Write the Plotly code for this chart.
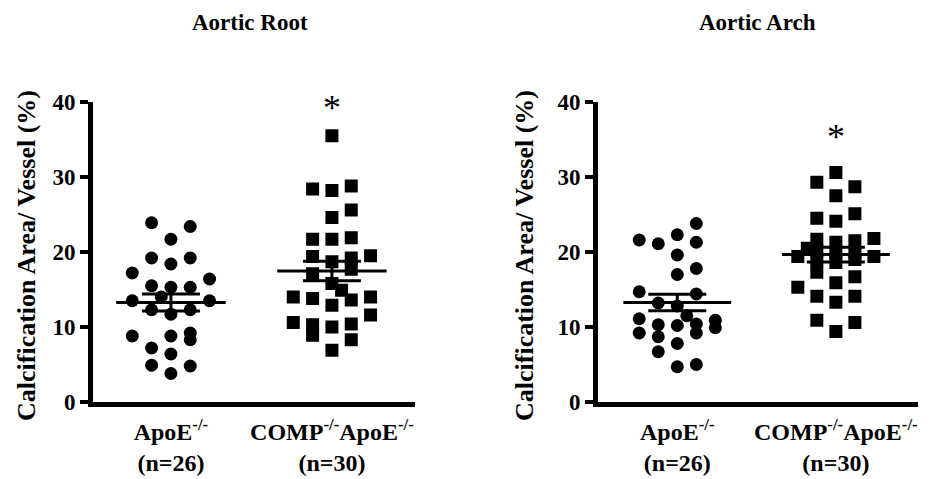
import numpy as np
import plotly.graph_objects as go

# ---------------- data ----------------
groups = ["ApoE<sup>-/-</sup><br>(n=26)", "COMP<sup>-/-</sup>ApoE<sup>-/-</sup><br>(n=30)"]
panel_titles = ["Aortic Root", "Aortic Arch"]
y_title = "Calcification Area/ Vessel (%)"
y_ticks = [0, 10, 20, 30, 40]

root_apoe = [23.9, 23.4, 21.7, 19.2, 18.4, 19.2, 17.2, 16.4, 15.5, 15.3, 15.3, 13.5, 14.0,
             13.5, 12.3, 11.7, 12.3, 8.8, 8.8, 9.2, 8.3, 7.2, 6.4, 4.9, 4.8, 3.8]
root_apoe_col = [-1, 1, 0, -1, 0, 1, -2, 2, -1, 0, 1, -2, -0.5,
                 2, -1, 0, 1, -2, 0, 1, 1, -1, 0, -1, 1, 0]

root_comp = [35.5, 28.4, 28.2, 28.8, 25.6, 24.6, 21.7, 21.7, 21.9, 19.5, 19.4, 18.7, 19.2, 17.7,
             17.1, 15.8, 14.9, 14.0, 13.8, 13.6, 14.0, 12.9, 11.6, 10.6, 10.3, 8.9, 10.0, 10.4, 8.3, 6.9]
root_comp_col = [0, -1, 0, 1, 1, 0, -1, 0, 1, 2, -1, 0, 1, 1,
                 -1, 0, 0.5, -2, -1, 1, 2, 0, 2, -2, -1, -1, 0, 1, 1, 0]

arch_apoe = [21.6, 21.1, 22.3, 23.8, 21.3, 19.6, 17.0, 17.8, 14.7, 14.4, 13.2, 12.8, 11.5,
             11.1, 10.3, 10.2, 10.4, 10.9, 9.9, 9.2, 8.7, 9.2, 7.8, 6.7, 4.7, 5.0]
arch_apoe_col = [-2, -1, 0, 1, 1, 0, 0, 1, -2, 1, -1, 0, 0.5,
                 -2, -1, 0, 1, 2, 2, -2, -1, 1, 0, -1, 0, 1]

arch_comp = [30.6, 29.3, 28.7, 27.5, 24.5, 24.1, 25.1, 21.7, 21.3, 21.5, 21.8, 20.5, 19.4, 20.2, 18.9,
             20.0, 18.6, 19.9, 19.0, 19.4, 17.3, 15.9, 16.7, 15.3, 14.1, 13.3, 14.1, 10.9, 9.4, 10.6]
arch_comp_col = [0, -1, 1, 0, -1, 0, 1, -1, 0, 1, 2, -1.5, -2, -1, -1,
                 0, 0, 1, 1, 2, -1, 0, 1, -2, -1, 0, 1, -1, 0, 1]

# ---------------- style ----------------
FONT = "Liberation Serif"
COL_STEP = 0.12
MEAN_HALF = 0.34
W, H = 947, 479

fig = go.Figure()

panels = [
    (("x", "y"), [(root_apoe, root_apoe_col, "circle"), (root_comp, root_comp_col, "square")]),
    (("x2", "y2"), [(arch_apoe, arch_apoe_col, "circle"), (arch_comp, arch_comp_col, "square")]),
]

for (xa, ya), series in panels:
    for gi, (vals, cols, sym) in enumerate(series):
        xc = gi + 1
        v = np.array(vals)
        xs = xc + COL_STEP * np.array(cols)
        fig.add_trace(go.Scatter(x=xs, y=v, mode="markers", xaxis=xa, yaxis=ya,
                                 marker=dict(symbol=sym, size=13, color="black", line=dict(width=0)),
                                 showlegend=False, hoverinfo="y"))
        mean = v.mean()
        sem = v.std(ddof=1) / np.sqrt(len(v))
        fig.add_trace(go.Scatter(x=[xc - MEAN_HALF, xc + MEAN_HALF], y=[mean, mean], mode="lines",
                                 xaxis=xa, yaxis=ya, line=dict(color="black", width=3),
                                 showlegend=False, hoverinfo="skip"))
        fig.add_trace(go.Scatter(x=[xc], y=[mean], mode="markers", xaxis=xa, yaxis=ya,
                                 marker=dict(size=1, color="rgba(0,0,0,0)"),
                                 error_y=dict(type="data", array=[sem], visible=True,
                                              color="black", thickness=3, width=29),
                                 showlegend=False, hoverinfo="skip"))

ydom = [77 / H, 377 / H]
axis_common_y = dict(range=[0, 40], tickvals=y_ticks, ticks="outside", ticklen=8, tickwidth=4,
                     tickcolor="black", showline=True, linewidth=5, linecolor="black",
                     showgrid=False, zeroline=False, automargin=False,
                     tickfont=dict(family=FONT, size=23, color="black", weight="bold"),
                     domain=ydom)
axis_common_x = dict(tickvals=[1, 2], ticktext=groups, ticks="", showline=True, linewidth=5,
                     linecolor="black", showgrid=False, zeroline=False, ticklabelstandoff=4,
                     automargin=False,
                     tickfont=dict(family=FONT, size=24, color="black", weight="bold"))

fig.update_layout(
    width=W, height=H, margin=dict(l=0, r=0, t=0, b=0),
    paper_bgcolor="white", plot_bgcolor="white",
    xaxis=dict(domain=[93 / W, 415 / W], range=[0.516, 2.516], anchor="y", **axis_common_x),
    yaxis=dict(anchor="x", **axis_common_y),
    xaxis2=dict(domain=[598 / W, 918 / W], range=[0.50, 2.518], anchor="y2", **axis_common_x),
    yaxis2=dict(anchor="x2", **axis_common_y),
)

ann = []
for cx, title in zip([250, 757], panel_titles):
    ann.append(dict(x=cx / W, y=1 - 23 / H, xref="paper", yref="paper", text=title, showarrow=False,
                    xanchor="center", yanchor="middle",
                    font=dict(family=FONT, size=23, color="black", weight="bold")))
for cx in [27, 525]:
    ann.append(dict(x=cx / W, y=1 - 256 / H, xref="paper", yref="paper", text=y_title, showarrow=False,
                    textangle=-90, xanchor="center", yanchor="middle",
                    font=dict(family=FONT, size=26, color="black", weight="bold")))
ann.append(dict(x=2, y=39.2, xref="x", yref="y", text="*", showarrow=False, yanchor="middle",
                font=dict(family=FONT, size=36, color="black")))
ann.append(dict(x=2, y=35.4, xref="x2", yref="y2", text="*", showarrow=False, yanchor="middle",
                font=dict(family=FONT, size=36, color="black")))
fig.update_layout(annotations=ann)

fig.write_html("out.html")
